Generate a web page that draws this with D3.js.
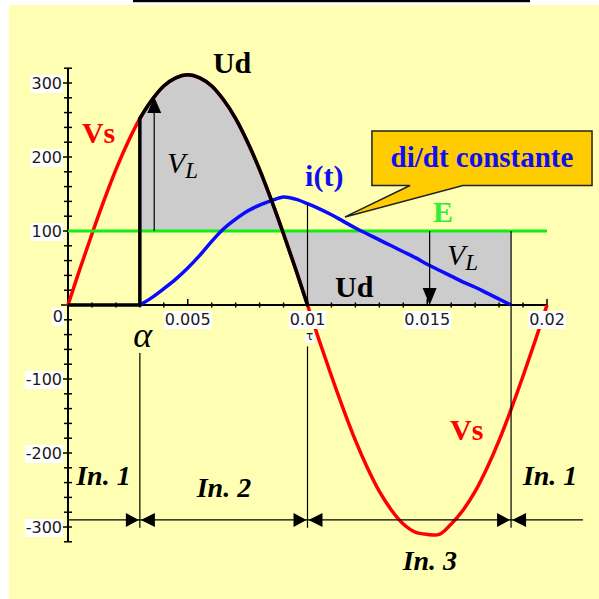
<!DOCTYPE html>
<html>
<head>
<meta charset="utf-8">
<script src="https://cdn.jsdelivr.net/npm/d3@7"></script>
<style>
  html, body { margin: 0; padding: 0; background: #ffffff; }
  svg { display: block; }
</style>
</head>
<body>
<svg id="chart" width="599" height="599"></svg>
<script>
// ---- data -------------------------------------------------------------
// sampling instants (s) and source voltage Vs (V) over one period
const timeS = [0, 0.0005, 0.001, 0.0015, 0.002, 0.0025, 0.003, 0.0035, 0.004, 0.0045,
  0.005, 0.0055, 0.006, 0.0065, 0.007, 0.0075, 0.008, 0.0085, 0.009, 0.0095,
  0.01, 0.0105, 0.011, 0.0115, 0.012, 0.0125, 0.013, 0.0135, 0.014, 0.0145,
  0.015, 0.0155, 0.016, 0.0165, 0.017, 0.0175, 0.018, 0.0185, 0.019, 0.0195, 0.02];
const vsVolts = [0, 49, 96, 141, 183, 220, 252, 277, 296, 307,
  311, 307, 296, 277, 252, 220, 183, 141, 96, 49,
  0, -49, -96, -141, -183, -220, -252, -277, -296, -307,
  -310, -310, -296, -277, -252, -220, -183, -141, -96, -49, 0];

// load current i(t) (drawn on the same vertical scale)
const currentT = [0.003, 0.0035, 0.004, 0.0045, 0.005, 0.0055, 0.006, 0.0065, 0.007, 0.0075,
  0.008, 0.0085, 0.009, 0.0095, 0.01, 0.0105, 0.011, 0.0115, 0.012, 0.0125,
  0.013, 0.0135, 0.014, 0.0145, 0.015, 0.0155, 0.016, 0.0165, 0.017, 0.0175,
  0.018, 0.0185];
const currentVal = [0, 10, 22, 35, 50, 67, 86, 103, 116, 127,
  135, 141, 146, 143, 137, 130, 122, 113, 104, 96,
  88, 80, 72, 64, 55, 47, 39, 31, 24, 16,
  8, 0];

// back-emf E and the three switching instants
const emfE = 100;
const alphaT = 0.003;   // firing angle
const tauT = 0.01;      // Vs crosses zero
const endT = 0.0185;    // current extinguishes
const vlArrowTop = [0.0036, 281];   // V_L arrow, conduction phase
const vlArrowLow = [0.0151, 0];     // V_L arrow, freewheel phase

// axis labels
const yTickLabels = [-300, -200, -100, 0, 100, 200, 300];
const xTickLabels = [0.005, 0.01, 0.015, 0.02];
const intervalLabels = ["In. 1", "In. 2", "In. 3", "In. 1"];

// ---- scales -----------------------------------------------------------
const svg = d3.select("#chart");
const x = d3.scaleLinear().domain([0, 0.02]).range([68, 547]);
const y = d3.scaleLinear().domain([-320, 320]).range([541.8, 68.2]);

const serifBold = "'Liberation Serif', 'Times New Roman', serif";
const sans = "'DejaVu Sans', Verdana, sans-serif";

// ---- background --------------------------------------------------------
svg.append("rect").attr("x", 9).attr("y", 5).attr("width", 590).attr("height", 594)
  .attr("fill", "#ffffb4");
svg.append("rect").attr("x", 133).attr("y", 0).attr("width", 397).attr("height", 2.2)
  .attr("fill", "#000");

// ---- derived series ------------------------------------------------------
const vsPts = timeS.map((t, i) => [t, vsVolts[i]]);
const udCurve = vsPts.filter(p => p[0] >= alphaT - 1e-9 && p[0] <= tauT + 1e-9);
const curveLine = d3.line().x(d => x(d[0])).y(d => y(d[1])).curve(d3.curveCatmullRom.alpha(0.5));
const straight = d3.line().x(d => x(d[0])).y(d => y(d[1]));

// V_L area: between Ud and E from alpha to extinction
const areaPath = curveLine(udCurve) +
  "L" + x(endT) + "," + y(0) +
  "L" + x(endT) + "," + y(emfE) +
  "L" + x(alphaT) + "," + y(emfE) + "Z";
svg.append("path").attr("d", areaPath).attr("fill", "#cccccc").attr("fill-rule", "nonzero");

// ---- axes ----------------------------------------------------------------
const axes = svg.append("g").attr("stroke", "#000");
axes.append("line").attr("x1", x(0)).attr("x2", x(0)).attr("y1", y(320)).attr("y2", y(-320))
  .attr("stroke-width", 2);
axes.append("line").attr("x1", x(0)).attr("x2", x(0.02)).attr("y1", y(0)).attr("y2", y(0))
  .attr("stroke-width", 2);
d3.range(-320, 321, 20).forEach(v => {
  const major = v % 100 === 0;
  axes.append("line").attr("x1", x(0) - (major ? 7 : 4)).attr("x2", x(0) + 4)
    .attr("y1", y(v)).attr("y2", y(v)).attr("stroke-width", 1.5);
});
d3.range(1, 21).forEach(k => {
  const t = k * 0.001;
  const major = k % 5 === 0;
  axes.append("line").attr("x1", x(t)).attr("x2", x(t))
    .attr("y1", y(0) - (major ? 6 : 2.5)).attr("y2", y(0) + (major ? 1 : 2.5))
    .attr("stroke-width", 1.5);
});

// ---- curves --------------------------------------------------------------
svg.append("path").attr("d", curveLine(vsPts)).attr("fill", "none")
  .attr("stroke", "#ff0000").attr("stroke-width", 3.5).attr("stroke-linejoin", "round");
svg.append("line").attr("x1", x(0)).attr("x2", x(0.02)).attr("y1", y(emfE)).attr("y2", y(emfE))
  .attr("stroke", "#11ee11").attr("stroke-width", 3);
svg.append("path").attr("d", curveLine(currentT.map((t, i) => [t, currentVal[i]])))
  .attr("fill", "none").attr("stroke", "#0a0aff").attr("stroke-width", 3.5)
  .attr("stroke-linejoin", "round");

// rectified output Ud
svg.append("path").attr("d", straight([[0, 0], [alphaT, 0], udCurve[0]]))
  .attr("fill", "none").attr("stroke", "#000").attr("stroke-width", 3.5);
svg.append("path").attr("d", curveLine(udCurve)).attr("fill", "none")
  .attr("stroke", "#000").attr("stroke-width", 3.5).attr("stroke-linecap", "round");

// ---- interval markers ------------------------------------------------------
const thin = svg.append("g").attr("stroke", "#000").attr("stroke-width", 1.2);
const tauI = currentT.indexOf(tauT);
thin.append("line").attr("x1", x(tauT)).attr("x2", x(tauT)).attr("y1", y(currentVal[tauI])).attr("y2", y(0));
thin.append("line").attr("x1", x(alphaT)).attr("x2", x(alphaT)).attr("y1", y(-65)).attr("y2", y(-301));
thin.append("line").attr("x1", x(tauT)).attr("x2", x(tauT)).attr("y1", y(-56)).attr("y2", y(-301));
thin.append("line").attr("x1", x(endT)).attr("x2", x(endT)).attr("y1", y(emfE)).attr("y2", y(-301));
// dimension line
const dimV = -290.5;
thin.append("line").attr("x1", x(0)).attr("x2", x(0.0215)).attr("y1", y(dimV)).attr("y2", y(dimV));

function arrowHead(tipX, tipY, dir, len, half) {
  // dir: "r","l","u","d"
  let pts;
  if (dir === "r") pts = [[tipX, tipY], [tipX - len, tipY - half], [tipX - len, tipY + half]];
  if (dir === "l") pts = [[tipX, tipY], [tipX + len, tipY - half], [tipX + len, tipY + half]];
  if (dir === "u") pts = [[tipX, tipY], [tipX - half, tipY + len], [tipX + half, tipY + len]];
  if (dir === "d") pts = [[tipX, tipY], [tipX - half, tipY - len], [tipX + half, tipY - len]];
  svg.append("path").attr("d", "M" + pts.map(p => p.join(",")).join("L") + "Z").attr("fill", "#000");
}
[alphaT, tauT, endT].forEach(t => {
  arrowHead(x(t) - 1, y(dimV), "r", 13, 7);
  arrowHead(x(t) + 1, y(dimV), "l", 14, 7);
});

// V_L arrows
thin.append("line").attr("x1", x(vlArrowTop[0])).attr("x2", x(vlArrowTop[0]))
  .attr("y1", y(emfE)).attr("y2", y(vlArrowTop[1]) + 10);
arrowHead(x(vlArrowTop[0]), y(vlArrowTop[1]), "u", 16, 7);
thin.append("line").attr("x1", x(vlArrowLow[0])).attr("x2", x(vlArrowLow[0]))
  .attr("y1", y(emfE)).attr("y2", y(vlArrowLow[1]) - 10);
arrowHead(x(vlArrowLow[0]), y(vlArrowLow[1]), "d", 17, 7);

// ---- tick labels with white boxes -----------------------------------------
function boxedText(tx, ty, str, anchor, size, pad) {
  const g = svg.append("g");
  const txt = g.append("text").attr("x", tx).attr("y", ty).attr("text-anchor", anchor)
    .attr("font-family", sans).attr("font-size", size).attr("fill", "#1a1a1a").text(str);
  const b = txt.node().getBBox();
  g.insert("rect", "text").attr("x", b.x - 1).attr("y", b.y + pad)
    .attr("width", b.width + 2).attr("height", b.height - pad).attr("fill", "#ffffff");
}
yTickLabels.forEach(v => {
  if (v === 0) boxedText(x(0) - 5, y(0) + 17, "0", "end", 16, 1);
  else boxedText(x(0) - 6, y(v) + 6, String(v), "end", 16, 1);
});
xTickLabels.forEach(v => boxedText(x(v), y(0) + 20, String(v), "middle", 16, 1));
boxedText(x(tauT) + 2, y(0) + 35, "\u03c4", "middle", 12, 4);

// ---- text annotations ----------------------------------------------------
function label(t, v, str, opts) {
  return svg.append("text").attr("x", x(t)).attr("y", y(v))
    .attr("text-anchor", opts.anchor || "start")
    .attr("font-family", opts.family || serifBold)
    .attr("font-weight", opts.weight || "bold")
    .attr("font-style", opts.style || "normal")
    .attr("font-size", opts.size || 30)
    .attr("fill", opts.color || "#000").text(str);
}
label(0.00058, 219, "Vs", { color: "#ff0000" });
label(0.01595, -182, "Vs", { color: "#ff0000" });
label(0.00605, 313.5, "Ud", {});
label(0.01115, 10.8, "Ud", {});
label(0.0099, 161, "i(t)", { color: "#1010ee" });
label(0.01524, 112, "E", { color: "#33ee33" });

function vl(t, v) {
  const tx = label(t, v, "V", { weight: "normal", style: "italic", size: 30 });
  tx.append("tspan").attr("dy", 5).attr("font-size", 23).text("L");
}
vl(0.00413, 178);
vl(0.01582, 54);

label(alphaT + 0.00012, -57, "\u03b1", { anchor: "middle", weight: "normal", style: "italic", size: 36 });

const inPos = [[0.00148, -243], [0.00651, -259], [0.01511, -358], [0.02013, -243]];
intervalLabels.forEach((s, i) => label(inPos[i][0], inPos[i][1], s,
  { anchor: "middle", style: "italic", size: 28 }));

// ---- callout -----------------------------------------------------------------
const box = { t0: 0.01269, t1: 0.02188, v0: 235, v1: 161.5 };
const tip = [0.01157, 119];
const base = [0.01428, 0.01649];
const calloutPath = "M" + x(box.t0) + "," + y(box.v0) +
  "H" + x(box.t1) + "V" + y(box.v1) +
  "H" + x(base[1]) + "L" + x(tip[0]) + "," + y(tip[1]) +
  "L" + x(base[0]) + "," + y(box.v1) + "H" + x(box.t0) + "Z";
svg.append("path").attr("d", calloutPath).attr("fill", "#ffcc00")
  .attr("stroke", "#222").attr("stroke-width", 1.5).attr("stroke-linejoin", "miter");
label((box.t0 + box.t1) / 2, 186, "di/dt constante", { anchor: "middle", color: "#1010ee", size: 29 });
</script>
</body>
</html>
